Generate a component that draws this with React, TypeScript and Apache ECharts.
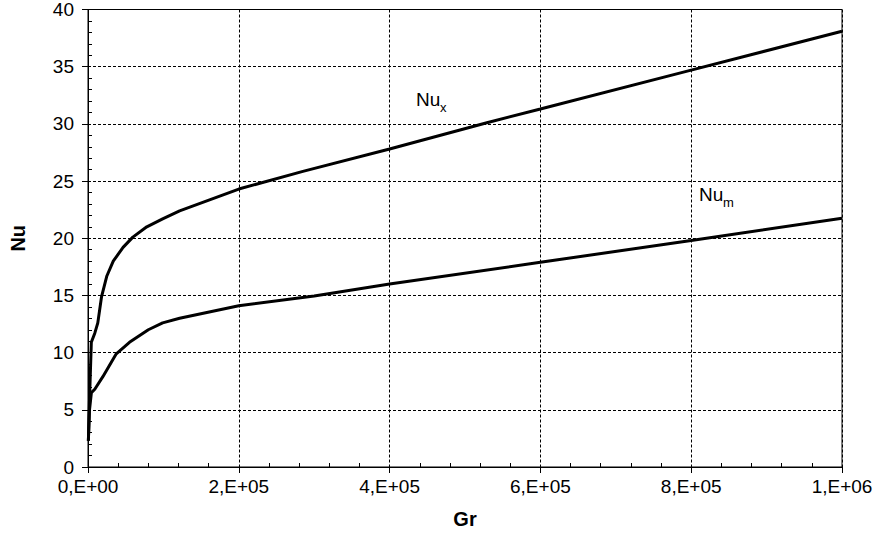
import React, { useEffect, useRef } from "react";
import * as echarts from "echarts";

const nuxGr = [500, 2000, 4400, 9000, 13000, 18000, 25000, 33500, 46500, 59500, 78000, 99000, 121500, 200000, 285000, 400000, 529000, 600000, 800000, 1000000];
const nuxVals = [2.3, 5.9, 10.9, 11.7, 12.6, 14.9, 16.7, 18.0, 19.2, 20.1, 21.0, 21.7, 22.4, 24.3, 25.85, 27.8, 30.1, 31.3, 34.7, 38.1];

const numGr = [500, 2000, 4500, 9000, 19700, 37500, 55000, 80000, 99000, 121500, 200000, 300000, 400000, 600000, 800000, 1000000];
const numVals = [2.3, 5.0, 6.5, 6.8, 7.9, 9.9, 10.9, 12.0, 12.6, 13.0, 14.1, 14.95, 16.0, 17.9, 19.8, 21.75];

const xTicks = [0, 200000, 400000, 600000, 800000, 1000000];
const xTickLabels = ["0,E+00", "2,E+05", "4,E+05", "6,E+05", "8,E+05", "1,E+06"];

const FONT = "Liberation Sans, Arial, sans-serif";

export default function App() {
  const ref = useRef<HTMLDivElement>(null);
  useEffect(() => {
    if (!ref.current) return;
    const chart = echarts.init(ref.current, null, { renderer: "svg" });
    const fmtX = (v: number) => {
      const i = xTicks.indexOf(v);
      return i >= 0 ? xTickLabels[i] : "";
    };
    chart.setOption({
      animation: false,
      backgroundColor: "#fff",
      grid: {
        left: 88,
        right: 41,
        top: 8,
        bottom: 81,
        show: true,
        borderColor: "#000",
        borderWidth: 1,
        containLabel: false,
      },
      xAxis: {
        type: "value",
        min: 0,
        max: 1000000,
        interval: 200000,
        name: "Gr",
        nameLocation: "middle",
        nameGap: 42,
        nameTextStyle: { fontFamily: FONT, fontWeight: "bold", fontSize: 20, color: "#000" },
        axisLine: { show: true, lineStyle: { color: "#000", width: 1 } },
        axisTick: { show: true, inside: false, length: 6, lineStyle: { color: "#000" } },
        minorTick: { show: true, splitNumber: 5, length: -4, lineStyle: { color: "#000" } },
        axisLabel: { formatter: fmtX, fontFamily: FONT, fontSize: 19, color: "#000", margin: 10 },
        splitLine: { show: true, lineStyle: { color: "#000", width: 1, type: [3, 2] } },
      },
      yAxis: {
        type: "value",
        min: 0,
        max: 40,
        interval: 5,
        name: "Nu",
        nameLocation: "middle",
        nameGap: 60,
        nameRotate: 90,
        nameTextStyle: { fontFamily: FONT, fontWeight: "bold", fontSize: 20, color: "#000" },
        axisLine: { show: true, lineStyle: { color: "#000", width: 1 } },
        axisTick: { show: true, inside: false, length: 6, lineStyle: { color: "#000" } },
        minorTick: { show: true, splitNumber: 5, length: -4, lineStyle: { color: "#000" } },
        axisLabel: { fontFamily: FONT, fontSize: 19, color: "#000", margin: 14 },
        splitLine: { show: true, lineStyle: { color: "#000", width: 1, type: [3, 2] } },
      },
      series: [
        {
          name: "Nu_x",
          type: "line",
          data: nuxGr.map((g, i) => [g, nuxVals[i]]),
          symbol: "none",
          lineStyle: { color: "#000", width: 3 },
        },
        {
          name: "Nu_m",
          type: "line",
          data: numGr.map((g, i) => [g, numVals[i]]),
          symbol: "none",
          lineStyle: { color: "#000", width: 3 },
        },
      ],
      graphic: [
        { type: "text", left: 416, top: 90, style: { text: "Nu", fontFamily: FONT, fontSize: 19, fill: "#000" } },
        { type: "text", left: 440, top: 101, style: { text: "x", fontFamily: FONT, fontSize: 13, fill: "#000" } },
        { type: "text", left: 699, top: 185, style: { text: "Nu", fontFamily: FONT, fontSize: 19, fill: "#000" } },
        { type: "text", left: 723, top: 196, style: { text: "m", fontFamily: FONT, fontSize: 13, fill: "#000" } },
      ],
    });
    return () => chart.dispose();
  }, []);
  return <div ref={ref} style={{ position: "absolute", left: 0, top: 0, width: 883, height: 548 }} />;
}
